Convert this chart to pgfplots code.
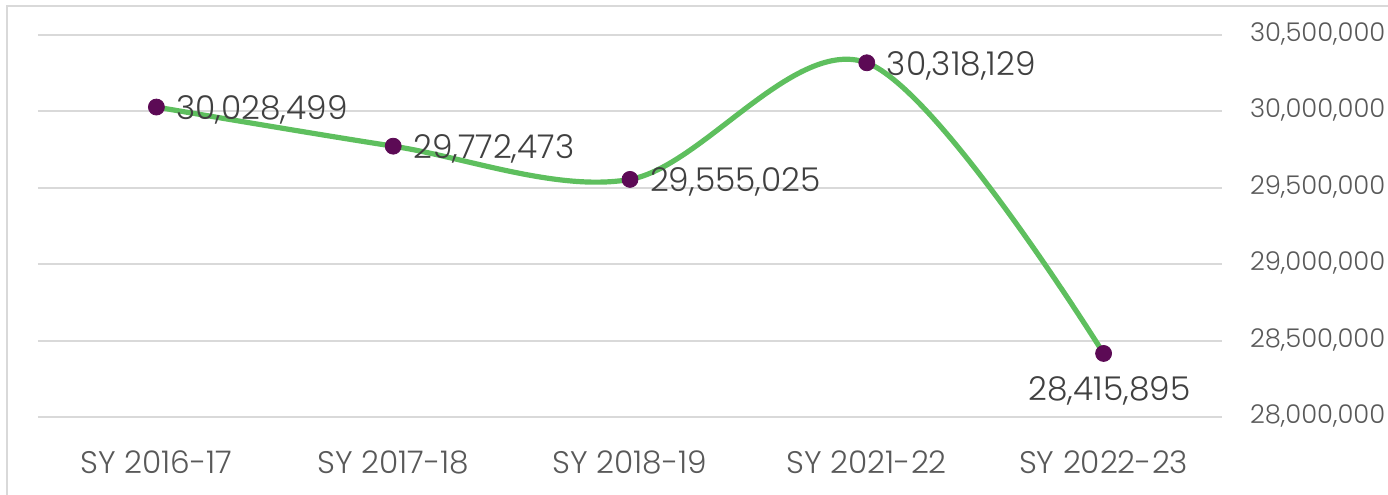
\documentclass[border=0pt]{standalone}
\usepackage{pgfplots}
\pgfplotsset{compat=1.18}
\usepackage{fontspec}
\setmainfont{Poppins}[UprightFont=* Light]
\definecolor{gridc}{HTML}{D9D9D9}
\definecolor{linec}{HTML}{5EBF5E}
\definecolor{markc}{HTML}{5C0A55}
\definecolor{labc}{HTML}{404040}
\definecolor{tickc}{HTML}{595959}
\begin{document}
\begin{tikzpicture}
\useasboundingbox (0,0) rectangle (694pt,247pt);
\draw[gridc, line width=1pt] (3.5pt,-10pt) -- (3.5pt,244pt) -- (710pt,244pt);
\begin{axis}[
  at={(19pt,38.5pt)}, anchor=south west,
  scale only axis, width=592pt, height=191pt,
  xmin=-0.5, xmax=4.5, ymin=28000000, ymax=30500000,
  axis line style={draw=none}, tick style={draw=none},
  xtick={0,1,2,3,4},
  xticklabels={SY 2016-17,SY 2017-18,SY 2018-19,SY 2021-22,SY 2022-23},
  xticklabel style={font=\fontsize{15.6}{18}\selectfont, text=tickc, anchor=center, yshift=-22.5pt},
  ytick={28000000,28500000,29000000,29500000,30000000,30500000},
  yticklabels={{28,000,000},{28,500,000},{29,000,000},{29,500,000},{30,000,000},{30,500,000}},
  yticklabel pos=right,
  yticklabel style={font=\fontsize{12.9}{15}\selectfont, text=tickc, anchor=west, xshift=10.5pt, yshift=0.5pt},
  scaled y ticks=false,
  ymajorgrids, grid style={gridc, line width=1pt},
  clip=false,
]
\addplot[linec, line width=2.6pt, smooth, tension=0.55] coordinates {
 (0,30028499) (1,29772473) (2,29555025) (3,30318129) (4,28415895)};
\addplot[only marks, mark=*, mark size=4pt, markc, mark options={fill=markc, draw=markc},
  point meta=explicit symbolic, nodes near coords,
  nodes near coords style={anchor=west, font=\fontsize{16.4}{19}\selectfont, text=labc, xshift=6.5pt, yshift=-1.5pt}]
 coordinates {(0,30028499)[30,028,499] (1,29772473)[29,772,473] (2,29555025)[29,555,025] (3,30318129)[30,318,129]};
\addplot[only marks, mark=*, mark size=4pt, markc, mark options={fill=markc, draw=markc},
  point meta=explicit symbolic, nodes near coords,
  nodes near coords style={anchor=north, font=\fontsize{16.4}{19}\selectfont, text=labc, xshift=3pt, yshift=-8pt}]
 coordinates {(4,28415895)[28,415,895]};
\end{axis}
\end{tikzpicture}
\end{document}
